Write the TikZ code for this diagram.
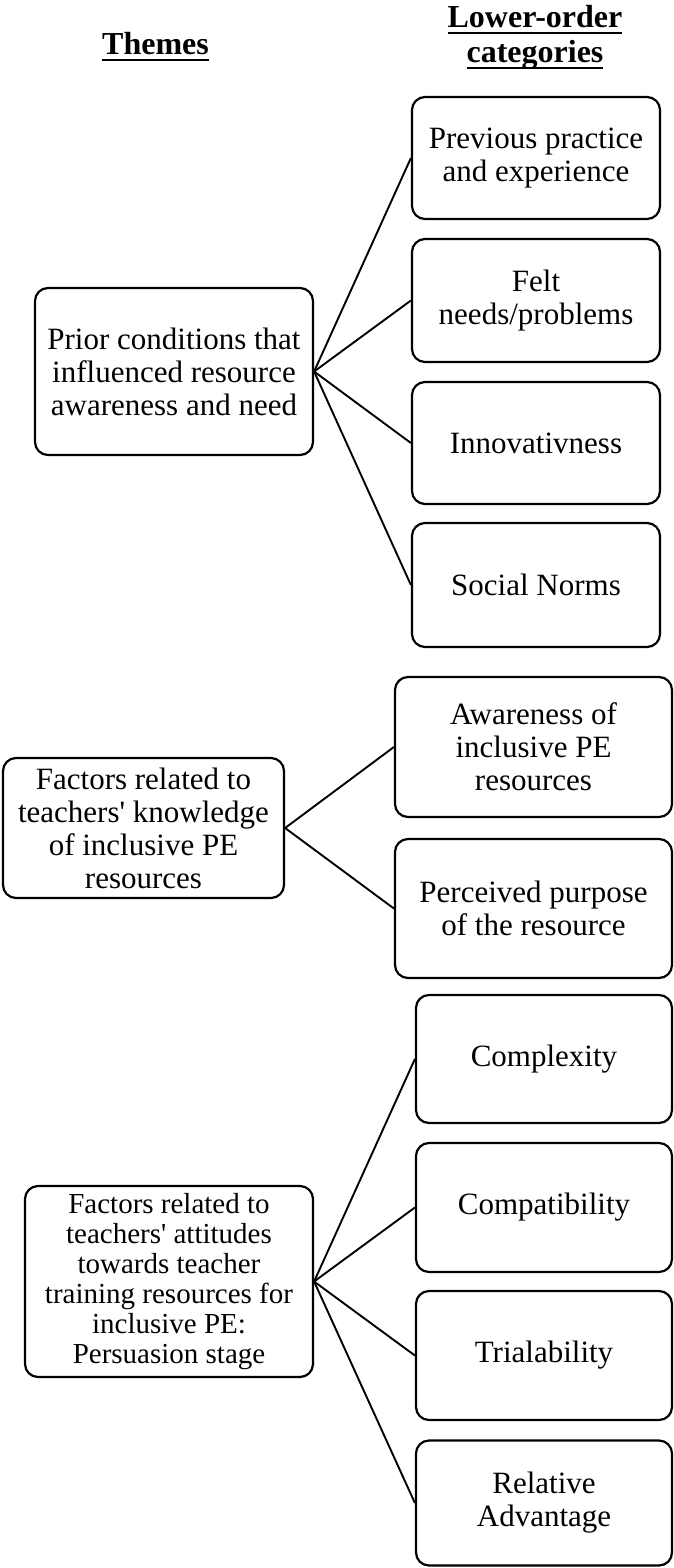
\documentclass[tikz,border=0pt]{standalone}
\usepackage{fontspec}
\setmainfont{Liberation Serif}
\newcommand\myul[1]{\setbox0\hbox{#1}\rlap{\rule[-6.2pt]{\wd0}{2.4pt}}\box0}
\begin{document}
\begin{tikzpicture}[x=1pt,y=1pt,
  catbox/.style={draw, line width=2.2pt, rounded corners=13pt, align=center, inner sep=0pt,
                 font=\fontsize{31}{33}\selectfont},
  smallbox/.style={catbox, font=\fontsize{29}{30}\selectfont},
  conn/.style={line width=1.9pt},
  hdr/.style={font=\fontsize{32}{35}\selectfont\bfseries, anchor=base, inner sep=0pt}]
\fill[white] (0,0) rectangle (674,-1568);
\useasboundingbox (0,0) rectangle (674,-1568);

% headers
\node[hdr] (themes) at (155.5,-55) {\myul{Themes}};
\node[hdr] (lo1) at (535,-28) {\myul{Lower-order}};
\node[hdr] (lo2) at (535,-63) {\myul{categories}};

% group 1
\node[catbox, minimum width=278, minimum height=167] (prior) at (174,-371.5)
  {Prior conditions that\\influenced resource\\awareness and need};
\node[catbox, minimum width=248, minimum height=122] (prev) at (536,-158)
  {Previous practice\\and experience};
\node[catbox, minimum width=248, minimum height=123] (felt) at (536,-300.5)
  {Felt\\needs/problems};
\node[catbox, minimum width=248, minimum height=122] (innov) at (536,-443)
  {Innovativness};
\node[catbox, minimum width=248, minimum height=124] (social) at (536,-585)
  {Social Norms};

% group 2
\node[catbox, minimum width=281, minimum height=140] (know) at (143.5,-828)
  {Factors related to\\teachers\textquotesingle{} knowledge\\of inclusive PE\\resources};
\node[catbox, minimum width=277, minimum height=140] (aware) at (533.5,-747)
  {Awareness of\\inclusive PE\\resources};
\node[catbox, minimum width=277, minimum height=139] (purpose) at (533.5,-908.5)
  {Perceived purpose\\of the resource};

% group 3
\node[smallbox, minimum width=288, minimum height=191] (persu) at (169,-1281.5)
  {Factors related to\\teachers\textquotesingle{} attitudes\\towards teacher\\training resources for\\inclusive PE:\\Persuasion stage};
\node[catbox, minimum width=256, minimum height=128] (complex) at (544,-1059)
  {Complexity};
\node[catbox, minimum width=256, minimum height=129] (compat) at (544,-1207.5)
  {Compatibility};
\node[catbox, minimum width=256, minimum height=129] (trial) at (544,-1355.5)
  {Trialability};
\node[catbox, minimum width=256, minimum height=125] (relat) at (544,-1503)
  {Relative\\Advantage};

% connectors
\foreach \t in {prev,felt,innov,social} \draw[conn] (prior.east) -- (\t.west);
\foreach \t in {aware,purpose} \draw[conn] (know.east) -- (\t.west);
\foreach \t in {complex,compat,trial,relat} \draw[conn] (persu.east) -- (\t.west);
\end{tikzpicture}
\end{document}
